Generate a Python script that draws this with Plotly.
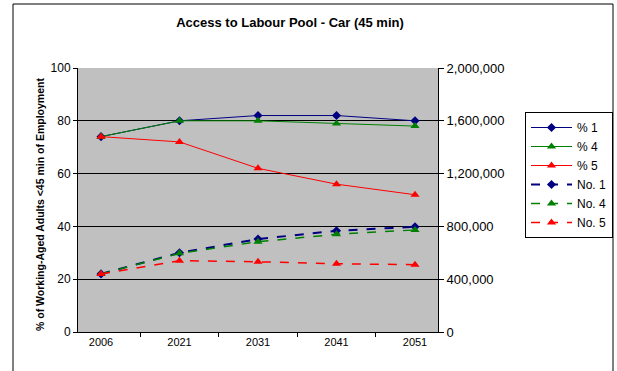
import plotly.graph_objects as go

years = ["2006", "2021", "2031", "2041", "2051"]
pct_1 = [74, 80, 82, 82, 80]
pct_4 = [74, 80, 80, 79, 78]
pct_5 = [74, 72, 62, 56, 52]
no_1 = [440000, 600000, 704000, 767000, 797000]
no_4 = [440000, 596000, 684000, 740000, 773000]
no_5 = [440000, 540000, 532000, 517000, 510000]

NAVY, GREEN, RED = "#000080", "#008000", "#FF0000"
FONT = "Liberation Sans, Arial, sans-serif"

fig = go.Figure()
fig.add_trace(go.Scatter(x=years, y=pct_1, name="% 1", mode="lines+markers",
                         line=dict(color=NAVY, width=1),
                         marker=dict(symbol="diamond", size=7, color=NAVY)))
fig.add_trace(go.Scatter(x=years, y=pct_4, name="% 4", mode="lines+markers",
                         line=dict(color=GREEN, width=1),
                         marker=dict(symbol="triangle-up", size=8, color=GREEN)))
fig.add_trace(go.Scatter(x=years, y=pct_5, name="% 5", mode="lines+markers",
                         line=dict(color=RED, width=1),
                         marker=dict(symbol="triangle-up", size=8, color=RED)))
fig.add_trace(go.Scatter(x=years, y=no_1, name="No. 1", mode="lines+markers", yaxis="y2",
                         line=dict(color=NAVY, width=2, dash="dash"),
                         marker=dict(symbol="diamond", size=7, color=NAVY)))
fig.add_trace(go.Scatter(x=years, y=no_4, name="No. 4", mode="lines+markers", yaxis="y2",
                         line=dict(color=GREEN, width=1.5, dash="dash"),
                         marker=dict(symbol="triangle-up", size=8, color=GREEN)))
fig.add_trace(go.Scatter(x=years, y=no_5, name="No. 5", mode="lines+markers", yaxis="y2",
                         line=dict(color=RED, width=1.5, dash="dash"),
                         marker=dict(symbol="triangle-up", size=8, color=RED)))

L, R, T, B = 78, 438, 68, 332
W, H = 617, 371
pw, ph = R - L, B - T

fig.update_layout(
    width=W, height=H,
    margin=dict(l=L, r=W - R, t=T, b=H - B, autoexpand=False),
    paper_bgcolor="white", plot_bgcolor="#C0C0C0",
    font=dict(family=FONT, size=11, color="black"),
    title=dict(text="<b>Access to Labour Pool - Car (45 min)</b>",
               x=290 / W, xref="container", xanchor="center",
               y=1 - 22 / H, yref="container", yanchor="middle",
               font=dict(size=13, family=FONT, color="black")),
    xaxis=dict(type="category", showgrid=False, showline=True, linecolor="black",
               linewidth=1, ticks="outside", tickson="boundaries", ticklen=4,
               tickcolor="black", mirror=False, zeroline=False,
               tickfont=dict(size=11)),
    yaxis=dict(range=[0, 100], dtick=20, showgrid=True, gridcolor="black", gridwidth=1,
               showline=True, linecolor="black", linewidth=1, ticks="outside",
               ticklen=4, tickcolor="black", zeroline=False, tickfont=dict(size=12)),
    yaxis2=dict(range=[0, 2000000], dtick=400000, overlaying="y", side="right",
                showgrid=False, showline=True, linecolor="black", linewidth=1,
                ticks="outside", ticklen=5, tickcolor="black", tickformat=",",
                zeroline=False, tickfont=dict(size=13)),
    legend=dict(x=(525 - L) / pw, y=(B - 112) / ph, xanchor="left", yanchor="top",
                bgcolor="white", bordercolor="black", borderwidth=1,
                font=dict(size=12), tracegroupgap=0, itemwidth=41),
    showlegend=True,
)

fig.add_annotation(text="<b>% of Working-Aged Adults <45 min of Employment</b>",
                   xref="paper", yref="paper", x=(40 - L) / pw, y=(B - 205) / ph,
                   textangle=-90, showarrow=False, font=dict(size=10.5, family=FONT),
                   xanchor="center", yanchor="middle")

fig.add_shape(type="rect", xref="paper", yref="paper",
              x0=(13 - L) / pw, x1=(613 - L) / pw, y0=(B - 380) / ph, y1=(B - 4) / ph,
              line=dict(color="black", width=1), fillcolor="rgba(0,0,0,0)", layer="below")

fig.write_html("out.html", config={"displayModeBar": False},
               post_script="document.body.style.margin='0';document.body.style.overflow='hidden';")
